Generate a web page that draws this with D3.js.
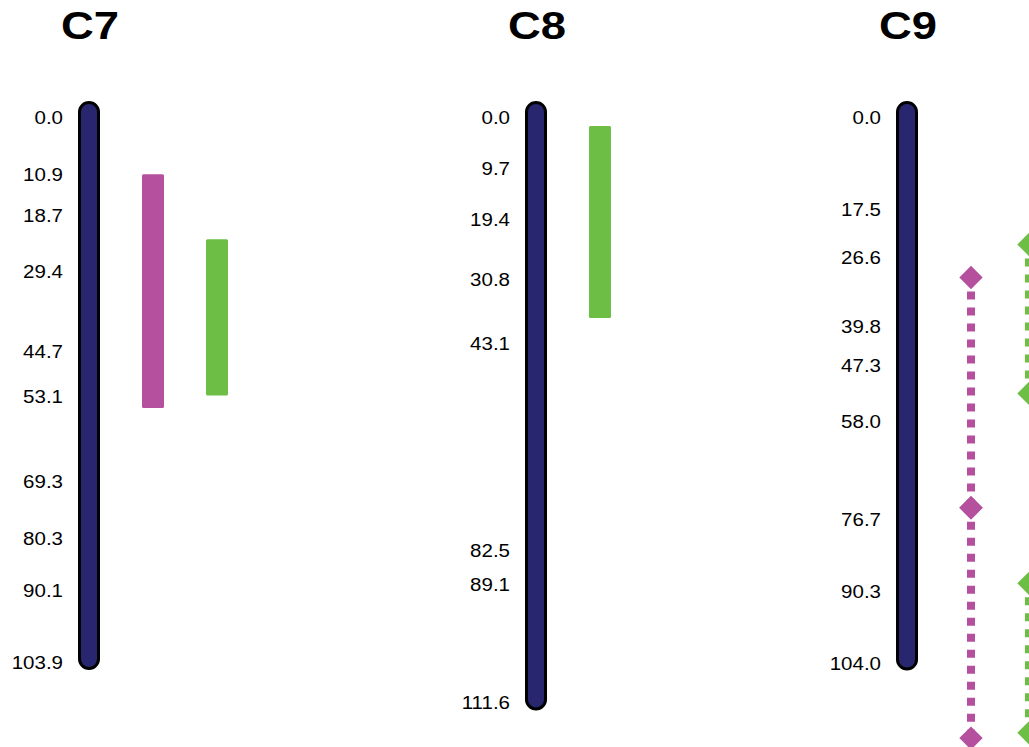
<!DOCTYPE html>
<html>
<head>
<meta charset="utf-8">
<script src="https://cdn.jsdelivr.net/npm/d3@7"></script>
<style>
    body { margin: 0; background: #fff; }
    svg { display: block; font-family: "Liberation Sans", Arial, Helvetica, sans-serif; }
</style>
</head>
<body>
<div id="div_map"></div>
<script>
// linkage groups and their lengths (cM)
var chromosomes = ['C7', 'C8', 'C9'];
var chrom_lengths = [103.9, 111.6, 104.0];

// marker positions printed left of each group
var c7_markers = [0.0, 10.9, 18.7, 29.4, 44.7, 53.1, 69.3, 80.3, 90.1, 103.9];
var c8_markers = [0.0, 9.7, 19.4, 30.8, 43.1, 82.5, 89.1, 111.6];
var c9_markers = [0.0, 17.5, 26.6, 39.8, 47.3, 58.0, 76.7, 90.3, 104.0];

// QTL intervals
var qtl_chrom = ['C7', 'C7', 'C8', 'C9', 'C9', 'C9', 'C9'];
var qtl_trait = ['A', 'B', 'B', 'A', 'A', 'B', 'B'];
var qtl_column = [1, 2, 1, 1, 1, 2, 2];
var qtl_style = ['bar', 'bar', 'bar', 'dot', 'dot', 'dot', 'dot'];
var qtl_start = [10.9, 23.3, 1.7, 30.6, 74.5, 24.3, 88.9];
var qtl_end = [55.5, 53.1, 38.3, 74.5, 118.4, 52.7, 117.4];

var markers = [c7_markers, c8_markers, c9_markers];

var width = 1029, height = 747;

var svg = d3.select('#div_map')
    .append('svg')
    .attr('width', width)
    .attr('height', height);

// one vertical cM scale shared by all groups
var y = d3.scaleLinear()
    .domain([0, 103.9])
    .range([117, 662]);

var x = d3.scaleOrdinal()
    .domain(chromosomes)
    .range([89, 536, 907]);

var color = d3.scaleOrdinal()
    .domain(['A', 'B'])
    .range(['#b5509f', '#6cbe45']);

// second column sits a bit closer on C9
var col2_offset = d3.scaleOrdinal()
    .domain(chromosomes)
    .range([128, 128, 122]);

function qtl_x(chrom, col) {
    return x(chrom) + (col == 1 ? 64 : col2_offset(chrom));
}

var chrom_width = 19;

var groups = svg.selectAll('.chrom')
    .data(chromosomes)
    .enter()
    .append('g')
    .attr('class', 'chrom');

groups.each(function(d, i) {
    var g = d3.select(this);
    var cx = x(d);

    g.append('text')
        .attr('x', cx + 1)
        .attr('y', 39)
        .attr('text-anchor', 'middle')
        .attr('font-size', 38)
        .attr('font-weight', 'bold')
        .attr('textLength', 58)
        .attr('lengthAdjust', 'spacingAndGlyphs')
        .text(d);

    g.append('rect')
        .attr('x', cx - chrom_width / 2)
        .attr('y', y(0) - 14.5)
        .attr('width', chrom_width)
        .attr('height', y(chrom_lengths[i]) + 6.5 - (y(0) - 14.5))
        .attr('rx', chrom_width / 2)
        .attr('fill', '#28266e')
        .attr('stroke', '#000')
        .attr('stroke-width', 3);

    g.selectAll('.marker_label')
        .data(markers[i])
        .enter()
        .append('text')
        .attr('class', 'marker_label')
        .attr('text-anchor', 'end')
        .attr('font-size', 19)
        .attr('transform', function(m) {
            return 'translate(' + (cx - 26) + ',' + (y(m) + 7) + ') scale(1.08,1)';
        })
        .text(function(m) { return m.toFixed(1); });
});

// build qtl rows from the arrays
var qtls = qtl_chrom.map(function(c, i) {
    return {
        chrom: c,
        trait: qtl_trait[i],
        col: qtl_column[i],
        style: qtl_style[i],
        start: qtl_start[i],
        end: qtl_end[i]
    };
});

var bars = qtls.filter(function(q) { return q.style == 'bar'; });
var dots = qtls.filter(function(q) { return q.style == 'dot'; });

svg.selectAll('.qtl_bar')
    .data(bars)
    .enter()
    .append('rect')
    .attr('class', 'qtl_bar')
    .attr('x', function(q) { return qtl_x(q.chrom, q.col) - 11; })
    .attr('y', function(q) { return y(q.start); })
    .attr('width', 22)
    .attr('height', function(q) { return y(q.end) - y(q.start); })
    .attr('rx', 1.5)
    .attr('fill', function(q) { return color(q.trait); });

svg.selectAll('.qtl_line')
    .data(dots)
    .enter()
    .append('line')
    .attr('class', 'qtl_line')
    .attr('x1', function(q) { return qtl_x(q.chrom, q.col); })
    .attr('x2', function(q) { return qtl_x(q.chrom, q.col); })
    .attr('y1', function(q) { return y(q.start); })
    .attr('y2', function(q) { return y(q.end); })
    .attr('stroke', function(q) { return color(q.trait); })
    .attr('stroke-width', 8)
    .attr('stroke-dasharray', '8 8')
    .attr('stroke-dashoffset', 2);

// diamonds at both ends of each dotted interval
var ends = [];
dots.forEach(function(q) {
    ends.push({chrom: q.chrom, col: q.col, trait: q.trait, pos: q.start});
    ends.push({chrom: q.chrom, col: q.col, trait: q.trait, pos: q.end});
});

var diamond = d3.symbol().type(d3.symbolSquare).size(272);

svg.selectAll('.qtl_end')
    .data(ends)
    .enter()
    .append('path')
    .attr('class', 'qtl_end')
    .attr('d', diamond)
    .attr('transform', function(e) {
        return 'translate(' + qtl_x(e.chrom, e.col) + ',' + y(e.pos) + ') rotate(45)';
    })
    .attr('fill', function(e) { return color(e.trait); });
</script>
</body>
</html>
